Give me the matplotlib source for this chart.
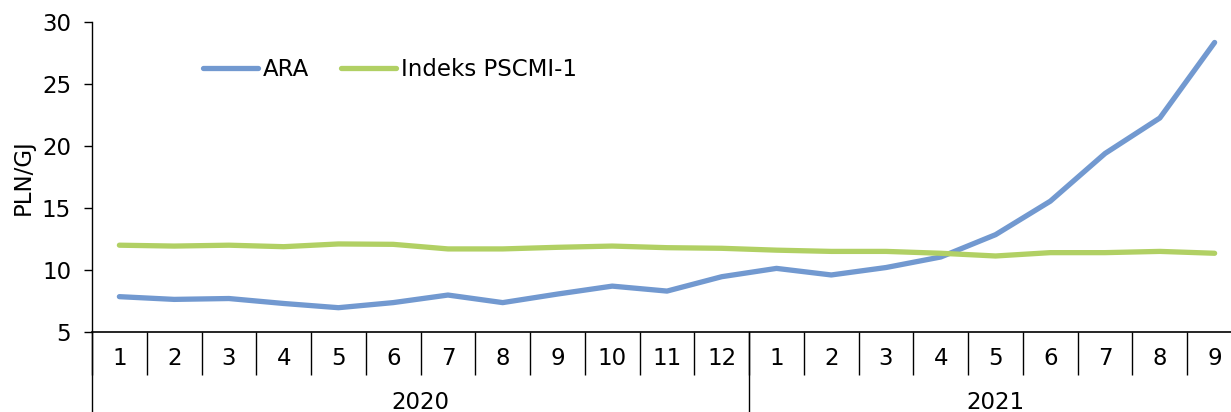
import numpy as np
import matplotlib.pyplot as plt
from matplotlib.lines import Line2D

months = ['1', '2', '3', '4', '5', '6', '7', '8', '9', '10', '11', '12',
          '1', '2', '3', '4', '5', '6', '7', '8', '9']
years = ['2020', '2021']
year_lengths = [12, 9]

ara = [7.85, 7.63, 7.7, 7.3, 6.96, 7.37, 7.98, 7.37, 8.06, 8.7, 8.3, 9.46,
       10.13, 9.6, 10.2, 11.05, 12.85, 15.55, 19.4, 22.26, 28.35]
pscmi = [12.0, 11.93, 12.0, 11.88, 12.1, 12.07, 11.7, 11.7, 11.83, 11.93, 11.8, 11.75,
         11.6, 11.5, 11.5, 11.35, 11.13, 11.4, 11.4, 11.5, 11.35]

blue = '#7299d0'
green = '#b1d064'
fs = 16.5

fig = plt.figure(figsize=(12.31, 4.12), dpi=100)
ax = fig.add_axes([92 / 1231, 80 / 412, 1150 / 1231, 310 / 412])

x = np.arange(len(months))
ax.plot(x, ara, color=blue, lw=3.8, solid_capstyle='round', label='ARA')
ax.plot(x, pscmi, color=green, lw=3.8, solid_capstyle='round', label='Indeks PSCMI-1')

ax.set_xlim(-0.5, len(months) - 0.5)
ax.set_ylim(5, 30)
ax.set_yticks(np.arange(5, 31, 5))
ax.tick_params(axis='y', labelsize=fs, length=6, width=1, direction='out', pad=9)
ax.set_ylabel('PLN/GJ', fontsize=fs)
ax.yaxis.set_label_coords(-0.05, 0.5)

for s in ['top', 'right']:
    ax.spines[s].set_visible(False)
ax.spines['bottom'].set_linewidth(1.2)
ax.spines['left'].set_linewidth(1)

# separators between months
ax.set_xticks(np.arange(-0.5, len(months), 1))
ax.set_xticklabels([])
ax.tick_params(axis='x', which='major', length=31, width=1, direction='out')
# month labels in the middle of each category
ax.set_xticks(x, minor=True)
ax.set_xticklabels(months, minor=True)
ax.tick_params(axis='x', which='minor', length=0, pad=11, labelsize=fs)

# year separators and labels
trans = ax.get_xaxis_transform()
start = 0
bounds = [-0.5]
for yr, n in zip(years, year_lengths):
    ax.text(start + (n - 1) / 2, -0.228, yr, transform=trans, ha='center',
            va='center', fontsize=fs)
    start += n
    bounds.append(start - 0.5)
for b in bounds:
    ax.add_line(Line2D([b, b], [0, -0.26], transform=trans, color='black',
                       lw=1, clip_on=False))

ax.legend(loc='upper left', bbox_to_anchor=(0.079, 0.95), ncol=2, frameon=False,
          fontsize=fs, handlelength=2.4, handletextpad=0.2, columnspacing=1.4)

fig.savefig('out.png', dpi=100)
